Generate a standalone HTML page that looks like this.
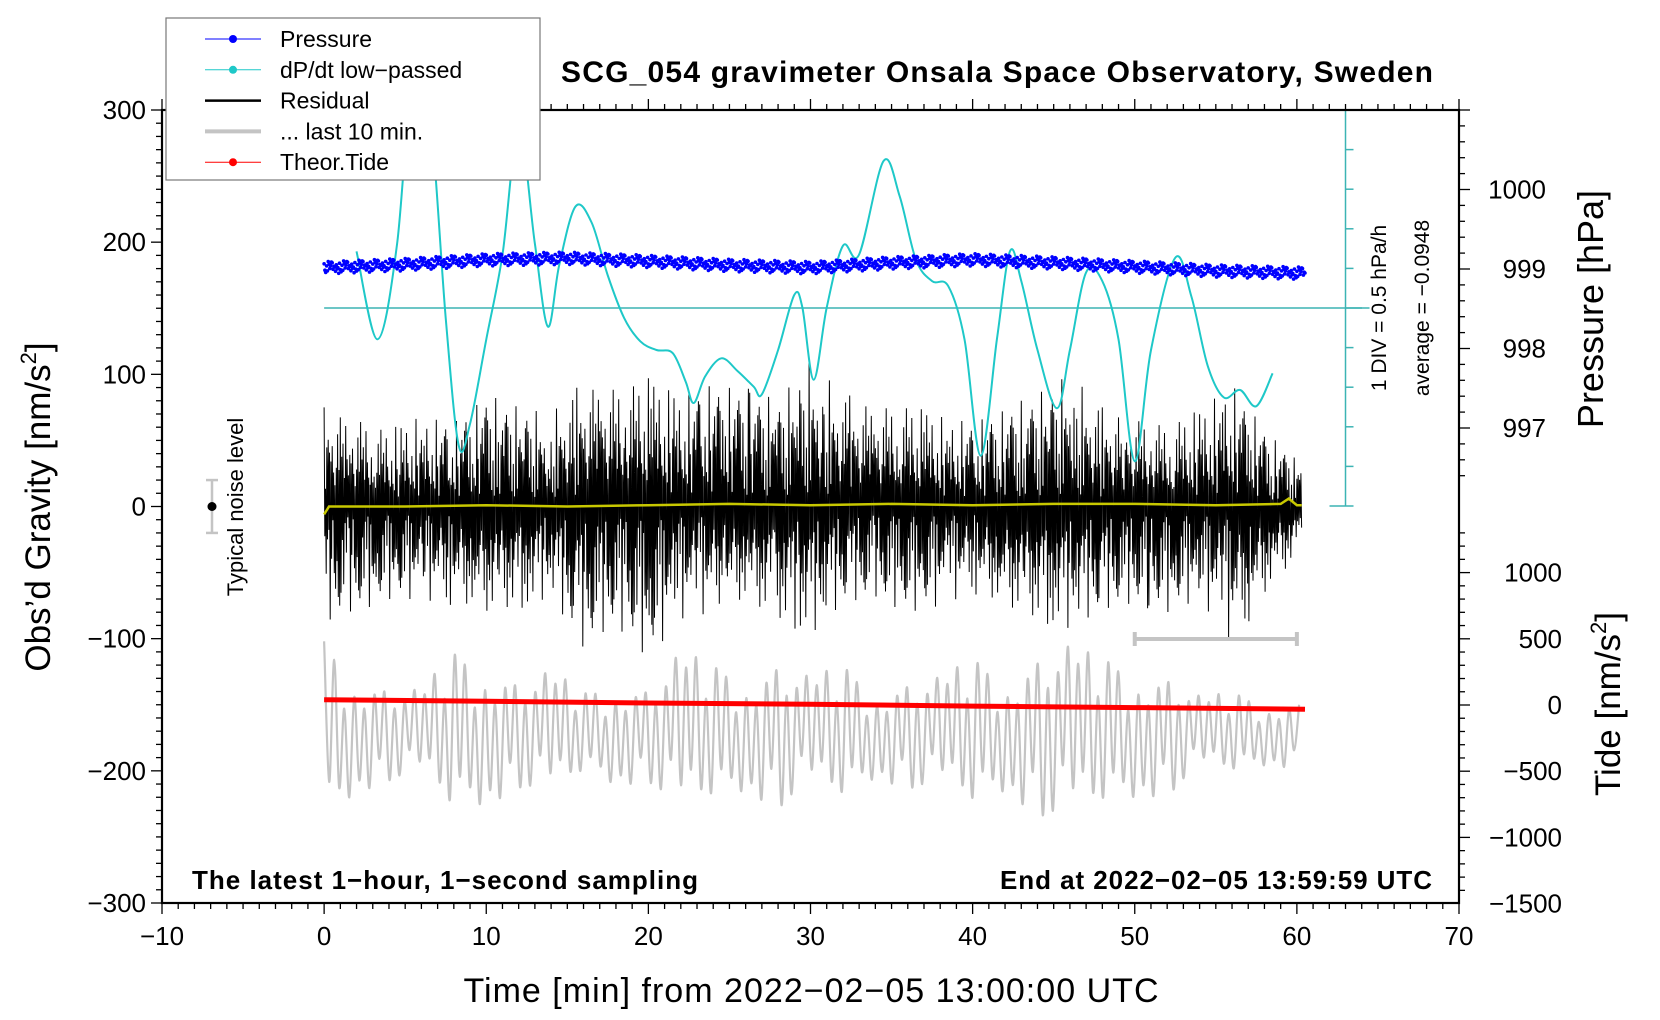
<!DOCTYPE html>
<html><head><meta charset="utf-8"><title>SCG_054 gravimeter</title>
<style>html,body{margin:0;padding:0;background:#fff}svg{display:block}text{font-family:"Liberation Sans",Arial,sans-serif}</style>
</head><body>
<svg id="chart" width="1660" height="1020" viewBox="0 0 1660 1020" xmlns="http://www.w3.org/2000/svg">
<defs><clipPath id="plotclip"><rect x="162" y="110" width="1297" height="793"/></clipPath></defs>
<rect x="0" y="0" width="1660" height="1020" fill="#fff"/>
<g id="marks" clip-path="url(#plotclip)"></g>
<g id="axes"></g>
<text x="997" y="82" text-anchor="middle" font-size="30" font-weight="bold" textLength="872">SCG_054 gravimeter Onsala Space Observatory, Sweden</text>
<text x="192" y="889" font-size="26" font-weight="bold" textLength="506">The latest 1−hour, 1−second sampling</text>
<text x="1432" y="889" text-anchor="end" font-size="26" font-weight="bold" textLength="432">End at 2022−02−05 13:59:59 UTC</text>
<text x="811" y="1002" text-anchor="middle" font-size="34" textLength="695">Time [min] from 2022−02−05 13:00:00 UTC</text>
<text transform="translate(50,507) rotate(-90)" text-anchor="middle" font-size="35">Obs’d Gravity [nm/s<tspan font-size="22" dy="-14">2</tspan><tspan dy="14">]</tspan></text>
<text transform="translate(1603,309) rotate(-90)" text-anchor="middle" font-size="36">Pressure [hPa]</text>
<text transform="translate(1620,704) rotate(-90)" text-anchor="middle" font-size="35">Tide [nm/s<tspan font-size="22" dy="-14">2</tspan><tspan dy="14">]</tspan></text>
<text transform="translate(243,507) rotate(-90)" text-anchor="middle" font-size="22">Typical noise level</text>
<text transform="translate(1386,308) rotate(-90)" text-anchor="middle" font-size="21">1 DIV = 0.5 hPa/h</text>
<text transform="translate(1429,308) rotate(-90)" text-anchor="middle" font-size="21">average = −0.0948</text>
<g id="legend">
<rect x="166" y="18" width="374" height="162" fill="#fff" stroke="#777" stroke-width="1.2"/>
</g>
</svg>
<script>
// ---- data ----
const xTicks = [-10, 0, 10, 20, 30, 40, 50, 60, 70];
const yTicks = [300, 200, 100, 0, -100, -200, -300];
const pTicks = [1000, 999, 998, 997];
const tideTicks = [1000, 500, 0, -500, -1000, -1500];
const envTimes = [0,2,4,6,8,10,12,14,16,18,20,22,24,26,28,30,32,34,36,38,40,42,44,46,48,50,52,54,56,58,60];
const residUpper = [75,70,60,70,65,85,75,70,95,95,100,85,95,90,80,110,85,80,80,70,65,75,85,100,75,70,65,75,95,60,35];
const residLower = [-90,-80,-70,-70,-75,-85,-80,-70,-110,-90,-115,-85,-80,-75,-90,-100,-75,-70,-80,-75,-65,-80,-90,-95,-80,-75,-80,-70,-105,-70,-40];
const grayAmp = [70,45,35,35,60,55,40,50,30,40,35,65,50,45,55,45,50,35,40,45,55,45,60,70,55,50,45,30,30,25,25];
const grayCenter = -172;
const dpTimes = [2,3.3,4.5,5.5,6.5,7.5,8.3,9,10,11,12,13,13.8,14.5,15.5,16.5,17.5,18.5,19.5,20.5,21.5,22.3,22.8,23.5,24.5,25.5,26.5,27,28,29,29.5,30.2,31,32,33,34.5,35.5,36.5,37.5,38.5,39.5,40.5,41.5,42.3,43,44,45.2,46,47,48,49,50,51,52.5,53.5,54.5,55.5,56.5,57.5,58.5];
const dpDiv = [1.43,-0.79,1.62,6.2,5.1,-0.25,-3.47,-2.93,-0.79,1.35,4.56,1.62,-0.47,1.08,2.56,2.16,0.82,-0.25,-0.84,-1.06,-1.14,-1.86,-2.40,-1.73,-1.27,-1.59,-1.99,-2.18,-1.06,0.33,0.01,-1.81,0.01,1.57,1.35,3.71,2.82,1.22,0.68,0.55,-0.79,-3.73,-0.79,1.43,0.68,-1.06,-2.53,-1.06,0.90,0.68,-0.79,-3.87,-1.06,1.27,0.28,-1.46,-2.26,-2.07,-2.48,-1.65];
const pTimes = [0,5,10,15,20,25,30,35,40,45,50,55,60.5];
const pressure = [999.02,999.06,999.12,999.14,999.1,999.05,999.02,999.08,999.12,999.08,999.03,998.98,998.95];
const tideTimes = [0,10,20,30,40,50,60.5];
const tide = [40,28,15,5,-8,-20,-32];
const yelTimes = [0,0.3,5,10,15,20,25,30,35,40,45,50,55,59,59.5,60,60.3];
const yellow = [-6,0,0,1,0,1,2,1,2,1,2,2,1,2,6,1,1];

// ---- scales ----
const X = t => 162 + (t + 10) * (1297 / 80);
const Y = g => 903 - (g + 300) * (793 / 600);
const YP = p => 269 - (p - 999) * 79.5;
const YT = v => 705 - v * 0.1324;
const YD = d => 308 - d * 39.6;
const NS = 'http://www.w3.org/2000/svg';
function mk(tag, attrs, parent){const e=document.createElementNS(NS,tag);for(const k in attrs)e.setAttribute(k,attrs[k]);parent.appendChild(e);return e;}
function envAt(arr, t){let i=Math.min(Math.floor(t/2),arr.length-2);const f=(t-envTimes[i])/2;return arr[i]+(arr[i+1]-arr[i])*f;}
function lin(ts, vs, t){for(let i=0;i<ts.length-1;i++){if(t<=ts[i+1]){const f=(t-ts[i])/(ts[i+1]-ts[i]);return vs[i]+(vs[i+1]-vs[i])*Math.max(0,f);}}return vs[vs.length-1];}

const marks = document.getElementById('marks');
const axes = document.getElementById('axes');

const pat = [1,0.55,0.9,0.7,0.35,0.95,0.6,0.8,0.45,1,0.75,0.5,0.88];
function smoothPath(pts){let d='M'+pts[0][0].toFixed(1)+','+pts[0][1].toFixed(1);for(let i=0;i<pts.length-1;i++){const p0=pts[i-1]||pts[i],p1=pts[i],p2=pts[i+1],p3=pts[i+2]||p2;d+=' C'+(p1[0]+(p2[0]-p0[0])/6).toFixed(1)+','+(p1[1]+(p2[1]-p0[1])/6).toFixed(1)+' '+(p2[0]-(p3[0]-p1[0])/6).toFixed(1)+','+(p2[1]-(p3[1]-p1[1])/6).toFixed(1)+' '+p2[0].toFixed(1)+','+p2[1].toFixed(1);}return d;}
let gp=[]; let k=0;
for(let t=0;t<=60.2;t+=0.31){const a=envAt(grayAmp,Math.min(t,60))*pat[k%13]*(k%2?-1:1);gp.push([X(t),Y(grayCenter+a)]);k++;}
let el = mk('path',{d:smoothPath(gp),fill:'none',stroke:'#c4c4c4','stroke-width':2.2},marks);



// residual (irregular stroke pattern to avoid visible periodicity)
const rpat = [1,0.3,0.72,0.2,0.5,0.93,0.35,0.6,0.15,0.8,0.45,0.25,0.66,0.4,0.55,0.1,0.77,0.58,0.28,0.85,0.38,0.62,0.18,0.7,0.48,0.97,0.33,0.52,0.22,0.68,0.42,0.88,0.12,0.57,0.3,0.75,0.46];
let rp=[]; k=0;
for(let t=0;t<=60.3;t+=1/24){const tt=Math.min(t,60);const f=rpat[(k*11+Math.floor(k/37)*3)%37];const v=(k%2?envAt(residLower,tt):envAt(residUpper,tt))*f;rp.push(X(t).toFixed(1)+','+Y(v).toFixed(1));k++;}
el = mk('polyline',{points:rp.join(' '),fill:'none',stroke:'#000','stroke-width':1},marks);



el = mk('polyline',{points:yelTimes.map((t,i)=>X(t).toFixed(1)+','+Y(yellow[i]).toFixed(1)).join(' '),fill:'none',stroke:'#c8c800','stroke-width':2.5},marks);



el = mk('polyline',{points:tideTimes.map((t,i)=>X(t).toFixed(1)+','+YT(tide[i]).toFixed(1)).join(' '),fill:'none',stroke:'#f00','stroke-width':5},marks);



el = mk('line',{x1:X(0),y1:YD(0),x2:1362,y2:YD(0),stroke:'#3cb4b4','stroke-width':1.5},marks);



el = mk('path',{d:smoothPath(dpTimes.map((t,i)=>[X(t),YD(dpDiv[i])])),fill:'none',stroke:'#1ec8c8','stroke-width':2},marks);



const jit=[0.05,-0.03,0.02,-0.06,0.04,-0.01,0.07,-0.04,0.01,-0.05,0.03,-0.02,-0.09,0.06,-0.07,0.0,0.08,-0.03,0.02];
const pg = mk('g',{fill:'#0000ff'},marks);


k=0;
for(let t=0;t<=60.5;t+=0.05){const p=lin(pTimes,pressure,t)+jit[(k*7)%19]*0.9;mk('circle',{cx:X(t).toFixed(1),cy:YP(p).toFixed(1),r:1.8},pg);k++;}

const dx=X(63);
el = mk('line',{x1:dx,y1:YD(5),x2:dx,y2:YD(-5),stroke:'#3cb4b4','stroke-width':1.5},axes);


for(let d=-5;d<=5;d++){const w=(d===5||d===-5||d===0)?24:8;mk('line',{x1:dx-(d===5||d===-5?16:0),y1:YD(d),x2:dx+w-(d===5||d===-5?16:0),y2:YD(d),stroke:'#3cb4b4','stroke-width':1.5},axes);}

el = mk('rect',{x:162,y:110,width:1297,height:793,fill:'none',stroke:'#000','stroke-width':2.2},axes);


for(let t=-10;t<=70;t++){const maj=t%10===0;mk('line',{x1:X(t),y1:903,x2:X(t),y2:903+(maj?11:6),stroke:'#000','stroke-width':1.3},axes);mk('line',{x1:X(t),y1:110,x2:X(t),y2:110-(maj?11:6),stroke:'#000','stroke-width':1.3},axes);}
xTicks.forEach(t=>{const tx=mk('text',{x:X(t),y:945,'text-anchor':'middle','font-size':26},axes);tx.textContent=t<0?'−'+(-t):String(t);

});
for(let g=-300;g<=300;g+=10){const maj=g%100===0;mk('line',{x1:162,y1:Y(g),x2:162-(maj?11:6),y2:Y(g),stroke:'#000','stroke-width':1.3},axes);}
yTicks.forEach(g=>{const tx=mk('text',{x:146,y:Y(g)+9,'text-anchor':'end','font-size':26},axes);tx.textContent=g<0?'−'+(-g):String(g);

});
for(let i=0;i<=23;i++){const p=996.4+i*0.2;const y=YP(p);if(y<110||y>506)continue;const maj=Math.abs(p-Math.round(p))<0.01;mk('line',{x1:1459,y1:y,x2:1459+(maj?11:6),y2:y,stroke:'#000','stroke-width':1.3},axes);}
pTicks.forEach(p=>{const tx=mk('text',{x:1546,y:YP(p)+9,'text-anchor':'end','font-size':26},axes);tx.textContent=String(p);

});
for(let v=-1500;v<=1500;v+=100){const y=YT(v);if(y<520||y>903)continue;const maj=v%500===0;mk('line',{x1:1459,y1:y,x2:1459+(maj?11:6),y2:y,stroke:'#000','stroke-width':1.3},axes);}
tideTicks.forEach(v=>{const tx=mk('text',{x:1562,y:YT(v)+9,'text-anchor':'end','font-size':26},axes);tx.textContent=v<0?'−'+(-v):String(v);

});

const nb = mk('g',{},axes);


mk('line',{x1:212,y1:Y(20),x2:212,y2:Y(-20),stroke:'#c4c4c4','stroke-width':2.5},nb);
mk('line',{x1:206,y1:Y(20),x2:218,y2:Y(20),stroke:'#c4c4c4','stroke-width':2.5},nb);
mk('line',{x1:206,y1:Y(-20),x2:218,y2:Y(-20),stroke:'#c4c4c4','stroke-width':2.5},nb);
mk('circle',{cx:212,cy:Y(0),r:4.5,fill:'#000'},nb);
const sb = mk('g',{},axes);


mk('line',{x1:X(50),y1:639,x2:X(60),y2:639,stroke:'#c4c4c4','stroke-width':4},sb);
mk('line',{x1:X(50),y1:632,x2:X(50),y2:646,stroke:'#c4c4c4','stroke-width':4},sb);
mk('line',{x1:X(60),y1:632,x2:X(60),y2:646,stroke:'#c4c4c4','stroke-width':4},sb);

const legNames=['Pressure','dP/dt low−passed','Residual','... last 10 min.','Theor.Tide'];
const legColors=['#0000ff','#1ec8c8','#000','#c4c4c4','#ff0000'];
const legend=document.getElementById('legend');
legNames.forEach((n,i)=>{const y=39+i*30.8;const g=mk('g',{},legend);


const lw=(i===2||i===3)?(i===3?4:2.5):1;
mk('line',{x1:205,y1:y,x2:261,y2:y,stroke:legColors[i],'stroke-width':lw},g);
if(i!==2&&i!==3)mk('circle',{cx:233,cy:y,r:4,fill:legColors[i]},g);
const tx=mk('text',{x:280,y:y+8,'font-size':23},g);tx.textContent=n;});
</script>
</body></html>
